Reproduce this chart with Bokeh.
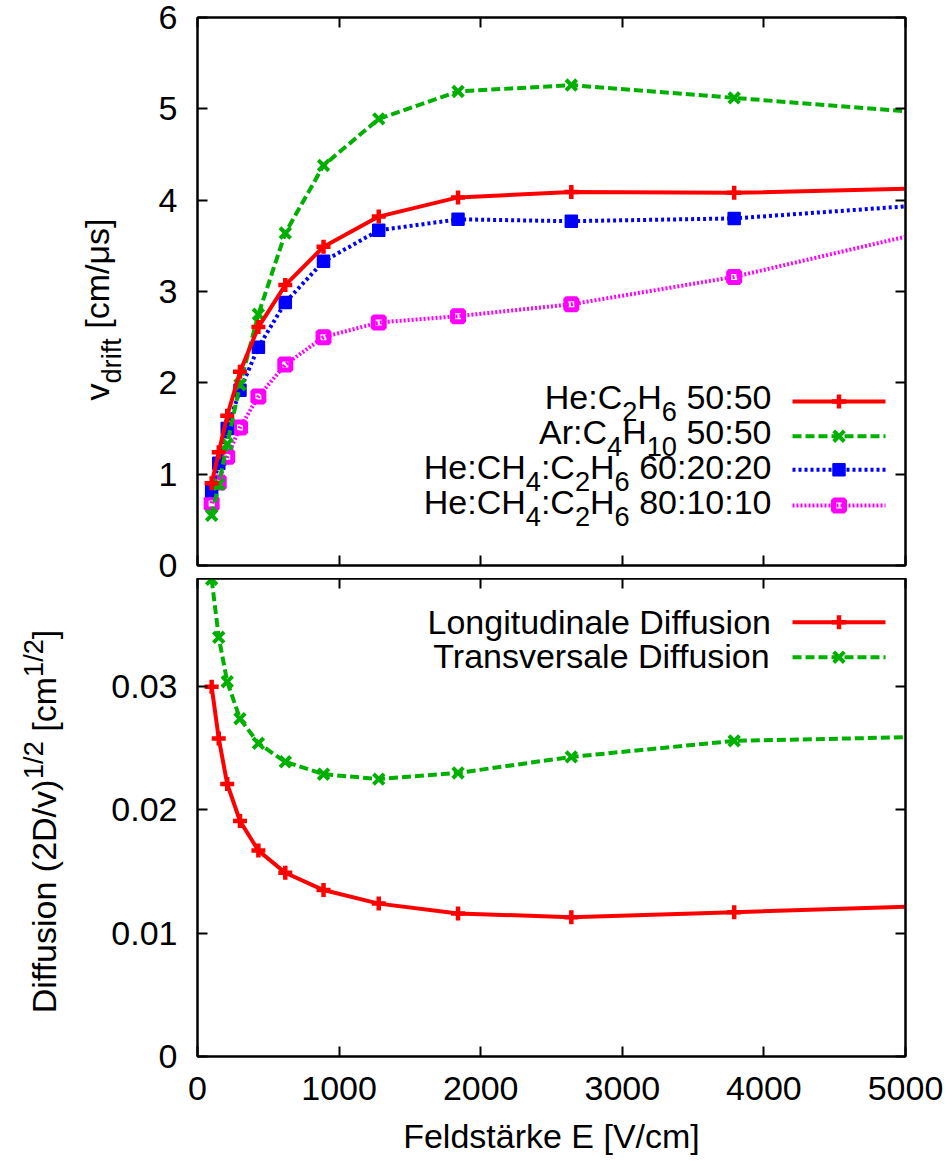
import math
from bokeh.plotting import figure
from bokeh.layouts import column, row
from bokeh.models import Label, LinearAxis, FixedTicker, CustomJSTickFormatter, Range1d
from bokeh.core.properties import value
from bokeh.embed import file_html
from bokeh.resources import INLINE

# ---------------- data ----------------
field_E = [100, 150, 210, 300, 430, 620, 890, 1280, 1840, 2640, 3790, 5440]
v_he_c2h6 = [0.90, 1.24, 1.64, 2.12, 2.61, 3.07, 3.49, 3.82, 4.03, 4.09, 4.08, 4.14]
v_ar_c4h10 = [0.55, 0.89, 1.33, 1.98, 2.75, 3.64, 4.38, 4.89, 5.19, 5.26, 5.12, 4.92]
v_he_ch4_c2h6_602020 = [0.82, 1.12, 1.50, 1.92, 2.39, 2.88, 3.33, 3.67, 3.79, 3.77, 3.80, 3.98]
v_he_ch4_c2h6_801010 = [0.68, 0.91, 1.19, 1.51, 1.85, 2.20, 2.50, 2.66, 2.73, 2.86, 3.16, 3.76]
diff_long = [0.0300, 0.0258, 0.0221, 0.0191, 0.0167, 0.0149, 0.0135, 0.0124, 0.0116, 0.0113, 0.0117, 0.0123]
diff_trans = [0.0387, 0.0340, 0.0304, 0.0274, 0.0254, 0.0239, 0.0229, 0.0225, 0.0230, 0.0243, 0.0256, 0.0260]

x_ticks = [0, 1000, 2000, 3000, 4000, 5000]
v_ticks = [0, 1, 2, 3, 4, 5, 6]
d_ticks = [0, 0.01, 0.02, 0.03]
X_MAX = 5000
V_MAX = 6
D_MAX = 0.03877

legend_top = [
    [("He:C", "n"), ("2", "sub"), ("H", "n"), ("6", "sub"), (" 50:50", "n")],
    [("Ar:C", "n"), ("4", "sub"), ("H", "n"), ("10", "sub"), (" 50:50", "n")],
    [("He:CH", "n"), ("4", "sub"), (":C", "n"), ("2", "sub"), ("H", "n"), ("6", "sub"), (" 60:20:20", "n")],
    [("He:CH", "n"), ("4", "sub"), (":C", "n"), ("2", "sub"), ("H", "n"), ("6", "sub"), (" 80:10:10", "n")],
]
legend_bottom = [
    [("Longitudinale Diffusion", "n")],
    [("Transversale Diffusion", "n")],
]
ylabel_top = [("v", "n"), ("drift", "sub"), (" [cm/μs]", "n")]
ylabel_bottom = [("Diffusion (2D/v)", "n"), ("1/2", "sup"), (" [cm", "n"), ("1/2", "sup"), ("]", "n")]
xlabel = "Feldstärke E [V/cm]"

# ---------------- layout constants (pixels) ----------------
W, H = 948, 1162
FL, FR = 197, 905
FW = FR - FL
T_TOP, T_BOT = 17, 565
B_TOP, B_BOT = 578, 1056
LBL_W_TOP, LBL_W_BOT = 130, 100
FONT = "Liberation Sans"
FS = 34
MID = 0.35  # distance from baseline to text middle, in em

STY = {
    "red": dict(color="#ff0000", dash="solid", lw=4, marker="cross", ms=14, mlw=4.5, fill=None),
    "green": dict(color="#00b000", dash="9 4", lw=4, marker="x", ms=15, mlw=4, fill=None),
    "blue": dict(color="#0000ff", dash="3 3", lw=4, marker="square", ms=12, mlw=1.5, fill="#0000ff"),
    "magenta": dict(color="#ff00ff", dash="2 2", lw=4, marker="square", ms=11, mlw=5, fill=None),
}

AW = {' ': 278, '(': 333, ')': 333, '/': 278, ':': 278, '[': 278, ']': 278, '.': 278,
      'A': 667, 'C': 722, 'D': 722, 'E': 667, 'F': 611, 'H': 722, 'L': 556, 'T': 611, 'V': 667,
      'a': 556, 'c': 500, 'd': 556, 'e': 556, 'f': 278, 'g': 556, 'i': 222, 'l': 222, 'm': 833,
      'n': 556, 'o': 556, 'r': 333, 's': 500, 't': 278, 'u': 556, 'v': 500, 'μ': 576, 'ä': 556, 'k': 500}
for _d in "0123456789":
    AW[_d] = 556
SUB_SCALE, SUB_SHIFT, SUP_SHIFT = 0.8, 0.36, 0.38


def psize(kind):
    return FS * (SUB_SCALE if kind != "n" else 1.0)


def pwidth(t, kind):
    return sum(AW.get(c, 556) for c in t) / 1000.0 * psize(kind)


def shift_of(kind):
    return FS * SUB_SHIFT if kind == "sub" else (-FS * SUP_SHIFT if kind == "sup" else 0.0)


def rich_h(p, to_data, pieces, x_right, base_y):
    """Horizontal text made of pieces, right-aligned at x_right, baseline at base_y (pixels)."""
    total = sum(pwidth(t, k) for t, k in pieces)
    x = x_right - total
    for t, k in pieces:
        lead = len(t) - len(t.lstrip(" "))
        xs = x + pwidth(" " * lead, k)
        fs = psize(k)
        yc = base_y + shift_of(k) - MID * fs
        dxd, dyd = to_data(xs, yc)
        p.add_layout(Label(x=dxd, y=dyd, text=t.strip(" "), text_font=FONT,
                           text_font_size=f"{fs:.1f}px", text_align="left",
                           text_baseline="middle", text_color="black"))
        x += pwidth(t, k)


def rich_v(p, to_data, pieces, base_x, center_y):
    """Text rotated 90 deg (reading upwards), centred at center_y, baseline at base_x (pixels)."""
    total = sum(pwidth(t, k) for t, k in pieces)
    y = center_y + total / 2.0
    for t, k in pieces:
        lead = len(t) - len(t.lstrip(" "))
        ys = y - pwidth(" " * lead, k)
        fs = psize(k)
        xc = base_x + shift_of(k) - MID * fs
        dxd, dyd = to_data(xc, ys)
        p.text(x=[dxd], y=[dyd], text=[t.strip(" ")], angle=math.pi / 2,
               text_font=value(FONT), text_font_size=value(f"{fs:.1f}px"),
               text_align="left", text_baseline="middle", text_color="black")
        y -= pwidth(t, k)


def top_data(px, py):
    return (px - FL) / FW * X_MAX, (T_BOT - py) / (T_BOT - T_TOP) * V_MAX


def bot_data(px, py):
    return (px - FL) / FW * X_MAX, (B_BOT - py) / (B_BOT - B_TOP) * D_MAX


def style_axis(ax, ticks, show, standoff=20):
    ax.ticker = FixedTicker(ticks=ticks)
    ax.axis_line_width = 2
    ax.axis_line_color = "black"
    ax.major_tick_in = 10
    ax.major_tick_out = 0
    ax.major_tick_line_width = 2
    ax.major_tick_line_color = "black"
    ax.minor_tick_line_color = None
    ax.major_label_text_font = FONT
    if show:
        ax.major_label_text_color = "black"
        ax.major_label_text_font_size = f"{FS}px"
        ax.major_label_standoff = standoff
    else:
        ax.major_label_text_color = None
        ax.major_label_text_font_size = "0px"
        ax.major_label_standoff = 0


def series(p, y, st):
    p.line(field_E, y, line_color=st["color"], line_width=st["lw"], line_dash=st["dash"])
    p.scatter(field_E, y, marker=st["marker"], size=st["ms"], line_color=st["color"],
              fill_color=st["fill"], line_width=st["mlw"])


def sample(p, to_data, y_px, st):
    x0, yy = to_data(792, y_px)
    x1, _ = to_data(885, y_px)
    xm, _ = to_data(838.5, y_px)
    p.line([x0, x1], [yy, yy], line_color=st["color"], line_width=st["lw"], line_dash=st["dash"])
    p.scatter([xm], [yy], marker=st["marker"], size=st["ms"], line_color=st["color"],
              fill_color=st["fill"], line_width=st["mlw"])


def make_fig(frame_h, top_b, bot_b, y_end, left_b):
    p = figure(frame_width=FW, frame_height=frame_h, output_backend="svg", toolbar_location=None,
               x_range=Range1d(0, X_MAX), y_range=Range1d(0, y_end),
               min_border_left=left_b, min_border_right=W - FR, min_border_top=top_b,
               min_border_bottom=bot_b, background_fill_color="white",
               border_fill_color="white")
    p.xgrid.visible = False
    p.ygrid.visible = False
    p.outline_line_color = "black"
    p.outline_line_width = 2
    return p


def label_fig(w, h):
    p = figure(frame_width=w, frame_height=h, output_backend="svg", toolbar_location=None,
               x_range=Range1d(0, w), y_range=Range1d(0, h), min_border=0,
               x_axis_location=None, y_axis_location=None, outline_line_color=None,
               background_fill_color="white", border_fill_color="white")
    p.xgrid.visible = False
    p.ygrid.visible = False
    return p


# ---------------- top panel ----------------
TOP_H = B_TOP
pt = make_fig(T_BOT - T_TOP, T_TOP, B_TOP - T_BOT, V_MAX, FL - LBL_W_TOP)
style_axis(pt.xaxis[0], x_ticks, False)
style_axis(pt.yaxis[0], v_ticks, True, 20)
ax = LinearAxis(); style_axis(ax, v_ticks, False); pt.add_layout(ax, "right")
ax = LinearAxis(); style_axis(ax, x_ticks, False); pt.add_layout(ax, "above")

series(pt, v_he_ch4_c2h6_801010, STY["magenta"])
series(pt, v_he_ch4_c2h6_602020, STY["blue"])
series(pt, v_ar_c4h10, STY["green"])
series(pt, v_he_c2h6, STY["red"])

top_rows = [(408, 401), (443, 435.7), (478, 469.3), (513, 505)]
top_styles = [STY["red"], STY["green"], STY["blue"], STY["magenta"]]
for (base, ly), pieces, st in zip(top_rows, legend_top, top_styles):
    rich_h(pt, top_data, pieces, 771, base)
    sample(pt, top_data, ly, st)

lt = label_fig(LBL_W_TOP, TOP_H)
rich_v(lt, lambda px, py: (px, TOP_H - py), ylabel_top, 108, 292)

# ---------------- bottom panel ----------------
BOT_H = H - B_TOP
pb = make_fig(B_BOT - B_TOP, 0, H - B_BOT, D_MAX, FL - LBL_W_BOT)
style_axis(pb.xaxis[0], x_ticks, True, 20)
style_axis(pb.yaxis[0], d_ticks, True, 20)
pb.yaxis[0].formatter = CustomJSTickFormatter(code="return tick == 0 ? '0' : tick.toFixed(2);")
pb.xaxis[0].axis_label = xlabel
pb.xaxis[0].axis_label_text_font = FONT
pb.xaxis[0].axis_label_text_font_size = f"{FS}px"
pb.xaxis[0].axis_label_text_font_style = "normal"
pb.xaxis[0].axis_label_text_color = "black"
pb.xaxis[0].axis_label_standoff = 14
ax = LinearAxis(); style_axis(ax, d_ticks, False); pb.add_layout(ax, "right")
ax = LinearAxis(); style_axis(ax, x_ticks, False); pb.add_layout(ax, "above")

series(pb, diff_trans, STY["green"])
series(pb, diff_long, STY["red"])

bot_rows = [(633, 621.7), (667, 656.7)]
for (base, ly), pieces, st in zip(bot_rows, legend_bottom, [STY["red"], STY["green"]]):
    rich_h(pb, bot_data, pieces, 771, base)
    sample(pb, bot_data, ly, st)

lb = label_fig(LBL_W_BOT, BOT_H)
rich_v(lb, lambda px, py: (px, BOT_H - (py - B_TOP)), ylabel_bottom, 55, 821)

layout = column(row(lt, pt, spacing=0), row(lb, pb, spacing=0), spacing=0)
open("out.html", "w").write(file_html(layout, INLINE))
